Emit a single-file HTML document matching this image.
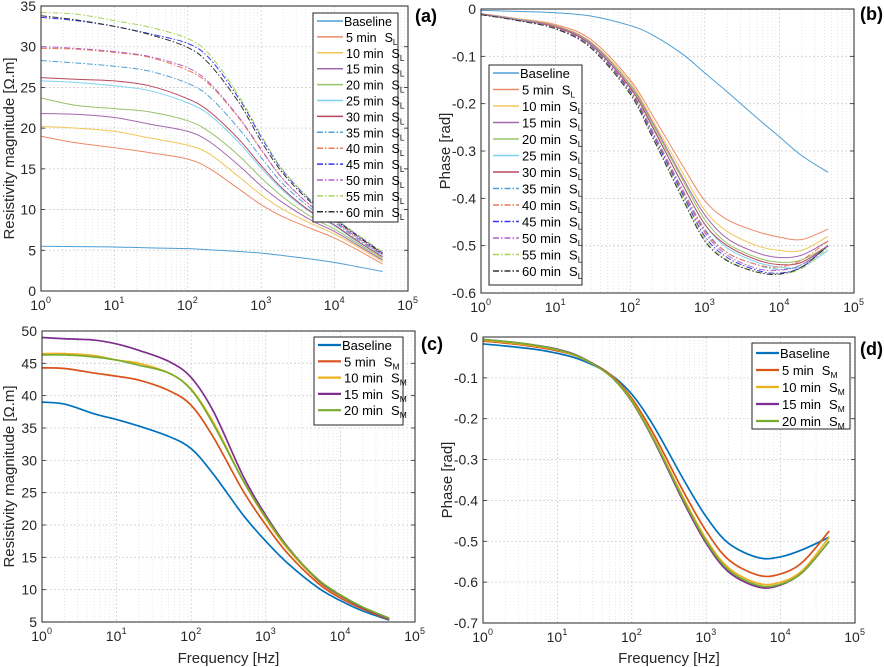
<!DOCTYPE html>
<html><head><meta charset="utf-8">
<style>
body{margin:0;background:#fff;}
svg{display:block;font-family:"Liberation Sans",sans-serif;}
</style></head>
<body>
<svg id="chart" width="884" height="667" viewBox="0 0 884 667" xmlns="http://www.w3.org/2000/svg"></svg>
<script>
// ---------- DATA ----------
const freqA = [1,3,10,30,100,200,500,1000,2000,5000,10000,20000,45000];
const seriesNamesL = ["Baseline","5 min","10 min","15 min","20 min","25 min","30 min","35 min","40 min","45 min","50 min","55 min","60 min"];
const magA_base = [5.5,5.45,5.4,5.3,5.2,5.05,4.85,4.65,4.35,3.9,3.5,3.0,2.4];
const magA_5  = [19,18.2,17.6,17.0,16.2,15.0,12.5,10.6,9.1,7.6,6.5,5.1,3.3];
const magA_10 = [20.2,20.0,19.6,18.8,17.9,16.8,14.0,11.8,10.0,8.2,7.0,5.5,3.6];
const magA_15 = [21.8,21.7,21.3,20.5,19.6,18.3,15.4,12.9,10.8,8.6,7.3,5.7,3.8];
const magA_20 = [23.7,22.8,22.4,22.0,20.9,19.5,16.6,13.9,11.5,9.0,7.6,5.9,4.0];
const magA_25 = [25.8,25.6,25.2,24.6,23.1,21.6,18.2,15.1,12.3,9.5,8.0,6.1,4.2];
const magA_30 = [26.2,26.0,25.8,25.2,23.6,22.0,18.6,15.4,12.5,9.6,8.1,6.2,4.2];
const magA_35 = [28.3,28.0,27.6,27.0,25.5,23.8,19.9,16.4,13.1,10.0,8.4,6.4,4.4];
const magA_40 = [29.8,29.7,29.3,28.7,27.1,25.3,21.2,17.3,13.7,10.3,8.6,6.6,4.5];
const magA_45 = [33.6,33.2,32.5,31.6,30.4,28.5,23.6,18.9,14.7,10.9,8.9,6.9,4.7];
const magA_50 = [30,29.8,29.4,28.8,27.4,25.5,21.3,17.4,13.7,10.3,8.6,6.6,4.5];
const magA_55 = [34.2,34.0,33.2,32.4,31.0,29.0,23.9,19.1,14.8,11.0,9.0,7.0,4.8];
const magA_60 = [33.8,33.3,32.5,31.5,29.9,27.8,23.1,18.4,14.4,10.7,8.8,6.8,4.6];

const phB_base = [-0.003,-0.005,-0.008,-0.015,-0.035,-0.055,-0.095,-0.135,-0.175,-0.23,-0.27,-0.31,-0.345];
const phB_5  = [-0.01,-0.02,-0.033,-0.065,-0.15,-0.225,-0.33,-0.405,-0.445,-0.47,-0.482,-0.487,-0.465];
const phB_10 = [-0.01,-0.02,-0.035,-0.07,-0.155,-0.235,-0.345,-0.425,-0.47,-0.5,-0.51,-0.51,-0.48];
const phB_15 = [-0.01,-0.021,-0.036,-0.072,-0.16,-0.24,-0.355,-0.435,-0.485,-0.515,-0.525,-0.52,-0.49];
const phB_20 = [-0.011,-0.022,-0.037,-0.074,-0.162,-0.245,-0.36,-0.445,-0.495,-0.525,-0.535,-0.53,-0.5];
const phB_25 = [-0.011,-0.022,-0.038,-0.075,-0.165,-0.25,-0.37,-0.455,-0.505,-0.535,-0.545,-0.545,-0.51];
const phB_30 = [-0.011,-0.023,-0.038,-0.076,-0.166,-0.25,-0.37,-0.455,-0.5,-0.53,-0.54,-0.535,-0.5];
const phB_35 = [-0.012,-0.023,-0.04,-0.078,-0.17,-0.258,-0.38,-0.465,-0.515,-0.54,-0.55,-0.54,-0.5];
const phB_40 = [-0.012,-0.023,-0.04,-0.079,-0.17,-0.26,-0.382,-0.468,-0.515,-0.54,-0.545,-0.53,-0.49];
const phB_45 = [-0.012,-0.024,-0.041,-0.08,-0.175,-0.265,-0.39,-0.48,-0.525,-0.552,-0.558,-0.545,-0.5];
const phB_50 = [-0.012,-0.023,-0.04,-0.079,-0.172,-0.262,-0.385,-0.472,-0.52,-0.548,-0.552,-0.54,-0.5];
const phB_55 = [-0.012,-0.024,-0.042,-0.082,-0.178,-0.27,-0.395,-0.485,-0.53,-0.555,-0.56,-0.548,-0.505];
const phB_60 = [-0.012,-0.024,-0.042,-0.083,-0.18,-0.272,-0.4,-0.49,-0.532,-0.556,-0.56,-0.545,-0.5];

const freqC = [1,2,5,10,20,50,100,200,500,1000,2000,5000,10000,20000,45000];
const seriesNamesM = ["Baseline","5 min","10 min","15 min","20 min"];
const magC_base = [39,38.7,37.2,36.3,35.3,33.7,31.8,27.8,21.5,17.5,14,10.3,8.3,6.7,5.3];
const magC_5  = [44.3,44.2,43.5,43,42.4,40.8,38.5,33.5,25.2,20,15.5,11,8.7,7,5.4];
const magC_10 = [46.5,46.5,46.2,45.5,45,43.5,41,35.8,26.8,21,16.2,11.4,9,7.2,5.5];
const magC_15 = [49,48.8,48.6,48,47,45.3,42.8,37.5,27.5,21.5,16.5,11.5,9.1,7.2,5.5];
const magC_20 = [46.3,46.3,46,45.5,44.7,43.5,40.9,35.5,26.8,21.2,16.4,11.6,9.2,7.3,5.6];

const phD_base = [-0.017,-0.022,-0.03,-0.04,-0.055,-0.09,-0.14,-0.22,-0.35,-0.44,-0.505,-0.54,-0.538,-0.52,-0.49];
const phD_5  = [-0.01,-0.015,-0.024,-0.034,-0.05,-0.09,-0.15,-0.24,-0.38,-0.475,-0.545,-0.583,-0.58,-0.55,-0.475];
const phD_10 = [-0.008,-0.013,-0.022,-0.032,-0.05,-0.092,-0.155,-0.25,-0.395,-0.495,-0.565,-0.603,-0.6,-0.57,-0.49];
const phD_15 = [-0.006,-0.011,-0.02,-0.03,-0.048,-0.093,-0.158,-0.255,-0.405,-0.505,-0.575,-0.612,-0.607,-0.575,-0.5];
const phD_20 = [-0.006,-0.011,-0.02,-0.031,-0.049,-0.094,-0.157,-0.253,-0.4,-0.5,-0.57,-0.608,-0.605,-0.575,-0.5];

// ---------- STYLE ----------
const colL = ["#4d9fd6","#ec8a6a","#f2c75a","#a468b0","#98c46a","#7fd2f2","#b9485e","#4d9fd6","#ec7a56","#3636f0","#b460c4","#a8d45a","#333333"];
const dashL = [0,0,0,0,0,0,0,1,1,1,1,1,1];
const colM = ["#0072BD","#D95319","#EDB120","#7E2F8E","#77AC30"];

const svg = document.getElementById('chart');
const NS = "http://www.w3.org/2000/svg";
function mk(tag, attrs, parent){const e=document.createElementNS(NS,tag);for(const k in attrs)e.setAttribute(k,attrs[k]);(parent||svg).appendChild(e);return e;}

function makePanel(p){
  const g = mk('g',{});
  
  
  const xs = v => p.x0 + (Math.log10(v))/5*(p.x1-p.x0);
  const ys = v => p.yb + (v - p.ymin)/(p.ymax-p.ymin)*(p.yt-p.yb);
  for(let d=0; d<5; d++){
    for(let m=2;m<=9;m++){
      const x = xs(m*Math.pow(10,d));
      const l = mk('line',{x1:x,x2:x,y1:p.yt,y2:p.yb,stroke:"#dcdcdc","stroke-width":0.7,"stroke-dasharray":"1,2"},g);
      
      
    }
  }
  for(let d=1; d<5; d++){
    const x = xs(Math.pow(10,d));
    const l = mk('line',{x1:x,x2:x,y1:p.yt,y2:p.yb,stroke:"#d0d0d0","stroke-width":0.8,"stroke-dasharray":"2,2"},g);
    
    
  }
  p.yticks.forEach(v=>{
    const y = ys(v);
    if(v!==p.ymin && v!==p.ymax){
      const l = mk('line',{x1:p.x0,x2:p.x1,y1:y,y2:y,stroke:"#d0d0d0","stroke-width":0.8,"stroke-dasharray":"2,2"},g);
      
      
    }
    const t = mk('text',{x:p.x0-5,y:y+5,"text-anchor":"end","font-size":14,fill:"#262626"},g);
    t.textContent = p.yfmt(v);
    
    
    mk('line',{x1:p.x0,x2:p.x0+4,y1:y,y2:y,stroke:"#262626","stroke-width":0.8},g);
    mk('line',{x1:p.x1,x2:p.x1-4,y1:y,y2:y,stroke:"#262626","stroke-width":0.8},g);
  });
  for(let d=0; d<=5; d++){
    const x = xs(Math.pow(10,d));
    const t = mk('text',{x:x-3,y:p.yb+19,"text-anchor":"middle","font-size":14,fill:"#262626"},g);
    t.textContent = "10";
    
    
    const s = mk('text',{x:x+5,y:p.yb+12,"text-anchor":"start","font-size":9,fill:"#262626"},g);
    s.textContent = String(d);
    
    
  }
  const clip = 'clip-'+p.name;
  const cp = mk('clipPath',{id:clip},g); mk('rect',{x:p.x0,y:p.yt,width:p.x1-p.x0,height:p.yb-p.yt},cp);
  p.series.forEach((s,i)=>{
    const pts = s.vals.map((v,k)=>[xs(p.freq[k]), ys(v)]);
    let d = "M"+pts[0][0]+","+pts[0][1];
    for(let k=0;k<pts.length-1;k++){
      const p0=pts[Math.max(0,k-1)],p1=pts[k],p2=pts[k+1],p3=pts[Math.min(pts.length-1,k+2)];
      const c1=[p1[0]+(p2[0]-p0[0])/6,p1[1]+(p2[1]-p0[1])/6];
      const c2=[p2[0]-(p3[0]-p1[0])/6,p2[1]-(p3[1]-p1[1])/6];
      d+=" C"+c1[0]+","+c1[1]+" "+c2[0]+","+c2[1]+" "+p2[0]+","+p2[1];
    }
    const path = mk('path',{d:d,fill:"none",stroke:s.color,"stroke-width":p.lw,"clip-path":"url(#"+clip+")"},g);
    if(s.dash) path.setAttribute('stroke-dasharray','6,2,1.5,2');
    
    
  });
  const fr = mk('rect',{x:p.x0,y:p.yt,width:p.x1-p.x0,height:p.yb-p.yt,fill:"none",stroke:"#262626","stroke-width":1},g);
  
  
  const yl = mk('text',{x:0,y:0,"text-anchor":"middle","font-size":15,fill:"#262626",transform:`translate(${p.ylx},${(p.yt+p.yb)/2}) rotate(-90)`},g);
  yl.textContent = p.ylabel;
  
  
  if(p.xlabel){
    const xl = mk('text',{x:(p.x0+p.x1)/2,y:663,"text-anchor":"middle","font-size":15,fill:"#262626"},g);
    xl.textContent = p.xlabel;
    
    
  }
  const tag = mk('text',{x:p.tagx,y:p.tagy,"font-size":18,"font-weight":"bold",fill:"#000"},g);
  tag.textContent = p.tag;
  
  
  const L = p.leg;
  const lg = mk('g',{},g);
  
  
  mk('rect',{x:L.x,y:L.y,width:L.w,height:L.h,fill:"#fff",stroke:"#262626","stroke-width":1},lg);
  p.series.forEach((s,i)=>{
    const y = L.y0 + i*L.dy;
    const e = mk('g',{},lg);
    
    
    const l = mk('line',{x1:L.x+4,x2:L.x+L.lw,y1:y,y2:y,stroke:s.color,"stroke-width":p.lw+0.5},e);
    if(s.dash) l.setAttribute('stroke-dasharray','6,2,1.5,2');
    const t = mk('text',{x:L.x+L.lw+(i===0?1:3),y:y+5,"font-size":L.fs,fill:"#000"},e);
    t.textContent = s.label;
    if(i>0){
      const sp = mk('tspan',{dx:8},t); sp.textContent = "S";
      const sb = mk('tspan',{"font-size":L.fs*0.65,dy:3},t); sb.textContent = p.sub;
    }
  });
}

const magA = [magA_base,magA_5,magA_10,magA_15,magA_20,magA_25,magA_30,magA_35,magA_40,magA_45,magA_50,magA_55,magA_60];
const phB = [phB_base,phB_5,phB_10,phB_15,phB_20,phB_25,phB_30,phB_35,phB_40,phB_45,phB_50,phB_55,phB_60];
const magC = [magC_base,magC_5,magC_10,magC_15,magC_20];
const phD = [phD_base,phD_5,phD_10,phD_15,phD_20];
const serL = arr => arr.map((v,i)=>({vals:v,color:colL[i],dash:dashL[i],label:seriesNamesL[i],id:'series-'+seriesNamesL[i].replace(' ','-').toLowerCase()}));
const serM = arr => arr.map((v,i)=>({vals:v,color:colM[i],dash:0,label:seriesNamesM[i],id:'series-'+seriesNamesM[i].replace(' ','-').toLowerCase()}));

makePanel({name:'panel-a',x0:41,x1:408,yt:6,yb:291,ymin:0,ymax:35,yticks:[0,5,10,15,20,25,30,35],yfmt:v=>String(v),
  freq:freqA,series:serL(magA),lw:1,ylabel:"Resistivity  magnitude  [Ω.m]",ylx:14,tag:"(a)",tagx:415,tagy:22,sub:"L",
  leg:{x:313,y:13,w:85,h:209,y0:21,dy:15.9,lw:30,fs:12.5}});
makePanel({name:'panel-b',x0:481,x1:854,yt:9,yb:293,ymin:-0.6,ymax:0,yticks:[0,-0.1,-0.2,-0.3,-0.4,-0.5,-0.6],yfmt:v=>v===0?"0":v.toFixed(1),
  freq:freqA,series:serL(phB),lw:1,ylabel:"Phase [rad]",ylx:450,tag:"(b)",tagx:860,tagy:20,sub:"L",
  leg:{x:489,y:65,w:93,h:220,y0:73,dy:16.5,lw:30,fs:13}});
makePanel({name:'panel-c',x0:42,x1:415,yt:331,yb:622,ymin:5,ymax:50,yticks:[5,10,15,20,25,30,35,40,45,50],yfmt:v=>String(v),
  freq:freqC,series:serM(magC),lw:1.7,ylabel:"Resistivity  magnitude  [Ω.m]",ylx:14,xlabel:"Frequency [Hz]",tag:"(c)",tagx:421,tagy:350,sub:"M",
  leg:{x:314,y:337,w:89,h:88,y0:345,dy:16.3,lw:27,fs:13}});
makePanel({name:'panel-d',x0:483,x1:855,yt:337,yb:623,ymin:-0.7,ymax:0,yticks:[0,-0.1,-0.2,-0.3,-0.4,-0.5,-0.6,-0.7],yfmt:v=>v===0?"0":v.toFixed(1),
  freq:freqC,series:serM(phD),lw:1.7,ylabel:"Phase [rad]",ylx:452,xlabel:"Frequency [Hz]",tag:"(d)",tagx:860,tagy:355,sub:"M",
  leg:{x:752,y:343,w:98,h:86,y0:353,dy:17,lw:27,fs:13}});
</script>
</body></html>
